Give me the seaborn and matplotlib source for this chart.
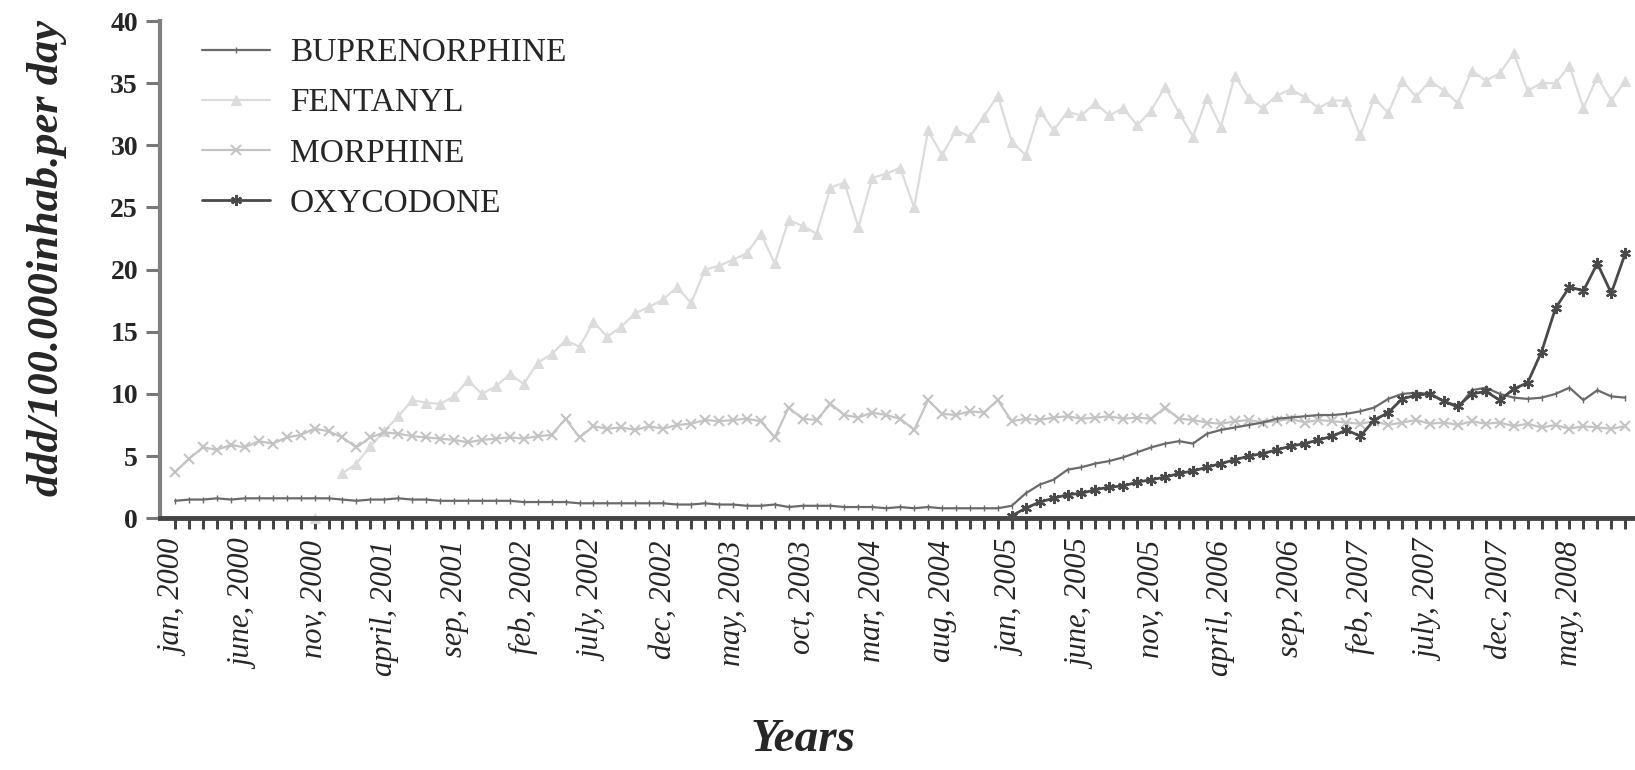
import numpy as np
import pandas as pd
import matplotlib.pyplot as plt
import seaborn as sns

# monthly values, jan 2000 .. sep 2008 (105 months), ddd/100.000 inhab. per day
months = pd.date_range('2000-01-01', periods=105, freq='MS')

buprenorphine = [
    1.4, 1.5, 1.5, 1.6, 1.5, 1.6, 1.6, 1.6, 1.6, 1.6, 1.6, 1.6,
    1.5, 1.4, 1.5, 1.5, 1.6, 1.5, 1.5, 1.4, 1.4, 1.4, 1.4, 1.4,
    1.4, 1.3, 1.3, 1.3, 1.3, 1.2, 1.2, 1.2, 1.2, 1.2, 1.2, 1.2,
    1.1, 1.1, 1.2, 1.1, 1.1, 1.0, 1.0, 1.1, 0.9, 1.0, 1.0, 1.0,
    0.9, 0.9, 0.9, 0.8, 0.9, 0.8, 0.9, 0.8, 0.8, 0.8, 0.8, 0.8,
    1.0, 2.0, 2.7, 3.1, 3.9, 4.1, 4.4, 4.6, 4.9, 5.3, 5.7, 6.0,
    6.2, 6.0, 6.8, 7.1, 7.3, 7.5, 7.7, 8.0, 8.1, 8.2, 8.3, 8.3,
    8.4, 8.6, 8.9, 9.6, 10.0, 10.1, 10.0, 9.4, 8.9, 10.3, 10.5, 10.0,
    9.7, 9.6, 9.7, 10.0, 10.5, 9.5, 10.3, 9.8, 9.7,
]

fentanyl = [
    np.nan, np.nan, np.nan, np.nan, np.nan, np.nan, np.nan, np.nan, np.nan, np.nan, 0.0, np.nan,
    3.6, 4.4, 5.8, 7.0, 8.2, 9.5, 9.3, 9.2, 9.8, 11.1, 10.0, 10.6,
    11.6, 10.8, 12.5, 13.2, 14.3, 13.8, 15.8, 14.6, 15.4, 16.5, 17.0, 17.6,
    18.6, 17.3, 20.0, 20.3, 20.8, 21.3, 22.9, 20.5, 24.0, 23.5, 22.9, 26.6,
    27.0, 23.4, 27.4, 27.7, 28.2, 25.0, 31.2, 29.2, 31.2, 30.7, 32.3, 34.0,
    30.3, 29.2, 32.8, 31.2, 32.7, 32.4, 33.4, 32.4, 33.0, 31.6, 32.8, 34.7,
    32.6, 30.7, 33.8, 31.5, 35.6, 33.8, 33.0, 34.0, 34.5, 33.9, 33.0, 33.6,
    33.6, 30.8, 33.8, 32.6, 35.2, 33.9, 35.2, 34.4, 33.4, 36.0, 35.2, 35.8,
    37.4, 34.4, 35.0, 35.0, 36.4, 33.0, 35.5, 33.6, 35.2,
]

morphine = [
    3.7, 4.8, 5.7, 5.5, 5.9, 5.7, 6.2, 6.0, 6.5, 6.7, 7.2, 7.0,
    6.5, 5.7, 6.5, 6.9, 6.8, 6.6, 6.5, 6.4, 6.3, 6.1, 6.3, 6.4,
    6.5, 6.4, 6.6, 6.7, 8.0, 6.5, 7.4, 7.2, 7.3, 7.1, 7.4, 7.2,
    7.5, 7.6, 7.9, 7.8, 7.9, 8.0, 7.8, 6.5, 8.9, 8.0, 7.9, 9.2,
    8.3, 8.1, 8.5, 8.3, 8.0, 7.1, 9.5, 8.4, 8.3, 8.6, 8.5, 9.5,
    7.8, 8.0, 7.9, 8.1, 8.2, 8.0, 8.1, 8.2, 8.0, 8.1, 8.0, 8.9,
    8.0, 7.9, 7.7, 7.6, 7.8, 7.9, 7.7, 7.8, 8.0, 7.7, 7.9, 7.8,
    7.7, 7.6, 7.8, 7.5, 7.7, 7.9, 7.6, 7.7, 7.5, 7.8, 7.6, 7.7,
    7.4, 7.6, 7.3, 7.5, 7.2, 7.4, 7.3, 7.2, 7.4,
]

oxycodone = [np.nan] * 60 + [
    0.2, 0.8, 1.3, 1.6, 1.9, 2.0, 2.3, 2.5, 2.6, 2.9, 3.1, 3.3,
    3.6, 3.8, 4.1, 4.4, 4.7, 5.0, 5.2, 5.5, 5.8, 6.0, 6.3, 6.6,
    7.1, 6.6, 7.9, 8.5, 9.6, 9.9, 10.0, 9.4, 9.0, 10.0, 10.2, 9.5,
    10.4, 10.9, 13.4, 16.9, 18.6, 18.3, 20.5, 18.1, 21.3,
]

tick_labels = ["jan, 2000", "june, 2000", "nov, 2000", "april, 2001", "sep, 2001",
               "feb, 2002", "july, 2002", "dec, 2002", "may, 2003", "oct, 2003",
               "mar, 2004", "aug, 2004", "jan, 2005", "june, 2005", "nov, 2005",
               "april, 2006", "sep, 2006", "feb, 2007", "july, 2007", "dec, 2007",
               "may, 2008"]

series = {
    'BUPRENORPHINE': buprenorphine,
    'FENTANYL': fentanyl,
    'MORPHINE': morphine,
    'OXYCODONE': oxycodone,
}

styles = {
    'BUPRENORPHINE': dict(color='#6a6a6a', marker='|', markersize=4, markeredgewidth=1.0, linewidth=1.6, zorder=3),
    'FENTANYL': dict(color='#dcdcdc', marker='^', markersize=7, markeredgewidth=0.8, linewidth=1.6, zorder=1),
    'MORPHINE': dict(color='#c4c4c4', marker='x', markersize=7, markeredgewidth=1.5, linewidth=1.6, zorder=2),
    'OXYCODONE': dict(color='#4a4a4a', marker=(6, 2, 0), markersize=8, markeredgewidth=1.6, linewidth=2.0, zorder=4),
}

sns.set_theme(style='white')
plt.rcParams['font.family'] = ['Liberation Serif', 'DejaVu Serif']

fig = plt.figure(figsize=(16.35, 7.7), dpi=100)
ax = fig.add_axes([0.098, 0.327, 0.902, 0.6457])

x_idx = np.arange(len(months))
for name, values in series.items():
    s = pd.Series(values, index=x_idx, dtype=float)
    ok = s.notna()
    runs = (~ok).cumsum()[ok]
    first = True
    # draw each unbroken run separately so gaps stay gaps
    for _, seg in s[ok].groupby(runs):
        st = styles[name]
        sns.lineplot(x=seg.index.values, y=seg.values, ax=ax,
                     color=st['color'], marker=st['marker'], markersize=st['markersize'],
                     markeredgewidth=st['markeredgewidth'], markeredgecolor=st['color'],
                     linewidth=st['linewidth'], zorder=st['zorder'], clip_on=False,
                     label=name if first else None)
        first = False

ax.set_xlim(-1.07, 104.7)
ax.set_ylim(0, 40)
ax.set_yticks(range(0, 41, 5))
ax.set_yticklabels([str(v) for v in range(0, 41, 5)], fontsize=20, fontweight='bold')

ax.set_xticks(x_idx[::5][:len(tick_labels)])
ax.set_xticklabels(tick_labels, rotation=90, fontsize=22, style='italic')
ax.set_xticks(x_idx, minor=True)
ax.tick_params(axis='x', which='both', direction='out', length=8, width=2.2,
               color='#444444', bottom=True, pad=8)
ax.tick_params(axis='y', direction='out', length=10, width=2.2, color='#777777',
               left=True, pad=6)

for side in ['top', 'right']:
    ax.spines[side].set_visible(False)
ax.spines['left'].set_color('#808080')
ax.spines['left'].set_linewidth(3)
ax.spines['bottom'].set_color('#444444')
ax.spines['bottom'].set_linewidth(3.5)
ax.set_xlabel('')
ax.set_ylabel('')

ax.legend(loc='upper left', bbox_to_anchor=(0.105, 0.99), bbox_transform=fig.transFigure,
          frameon=False, fontsize=24, handlelength=2.05, handletextpad=0.6,
          labelspacing=0.59, numpoints=1)

fig.text(0.029, 0.665, 'ddd/100.000inhab.per day', rotation=90, ha='center', va='center',
         fontsize=32, fontweight='bold', style='italic')
fig.text(0.491, 0.012, 'Years', ha='center', va='bottom',
         fontsize=34, fontweight='bold', style='italic')

fig.savefig('out.png', dpi=100)
